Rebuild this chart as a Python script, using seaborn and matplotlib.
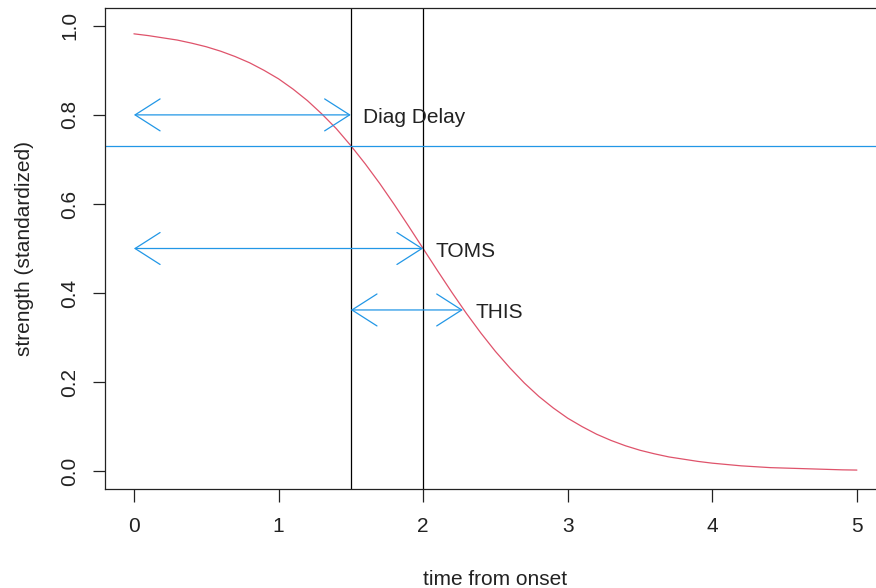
import numpy as np
import pandas as pd
import matplotlib
matplotlib.use("Agg")
import matplotlib.pyplot as plt
from matplotlib.patches import ArrowStyle
from matplotlib.transforms import offset_copy
import seaborn as sns

# ---- data ----
time = [0.0, 0.1, 0.2, 0.3, 0.4, 0.5, 0.6, 0.7, 0.8, 0.9,
        1.0, 1.1, 1.2, 1.3, 1.4, 1.5, 1.6, 1.7, 1.8, 1.9,
        2.0, 2.1, 2.2, 2.3, 2.4, 2.5, 2.6, 2.7, 2.8, 2.9,
        3.0, 3.1, 3.2, 3.3, 3.4, 3.5, 3.6, 3.7, 3.8, 3.9,
        4.0, 4.1, 4.2, 4.3, 4.4, 4.5, 4.6, 4.7, 4.8, 4.9, 5.0]
strength = [0.982, 0.978, 0.973, 0.968, 0.961, 0.953, 0.943, 0.931, 0.917, 0.900,
            0.881, 0.858, 0.832, 0.802, 0.769, 0.731, 0.690, 0.646, 0.599, 0.550,
            0.500, 0.450, 0.401, 0.354, 0.310, 0.269, 0.232, 0.198, 0.168, 0.142,
            0.119, 0.100, 0.083, 0.069, 0.057, 0.047, 0.039, 0.032, 0.027, 0.022,
            0.018, 0.015, 0.012, 0.010, 0.008, 0.007, 0.006, 0.005, 0.004, 0.003, 0.0025]

vlines_x = [1.5, 2.0]
hline_y = 0.731

arrow_labels = ["Diag Delay", "TOMS", "THIS"]
arrow_start = [0.0, 0.0, 1.5]
arrow_end = [1.5, 2.0, 2.275]
arrow_y = [0.80, 0.50, 0.362]
label_x = [1.585, 2.085, 2.36]

x_ticks = [0, 1, 2, 3, 4, 5]
y_ticks = [0.0, 0.2, 0.4, 0.6, 0.8, 1.0]

RED = "#DF536B"
BLUE = "#2297E6"
INK = "#222222"
FS = 15

sns.set_theme(style="white")
plt.rcParams["font.family"] = ["Liberation Sans", "DejaVu Sans"]

fig = plt.figure(figsize=(8.76, 5.88), dpi=100)
ax = fig.add_axes([105 / 876, 1 - 489 / 588, 780.8 / 876, 481 / 588])

df = pd.DataFrame({"time": time, "strength": strength})
sns.lineplot(data=df, x="time", y="strength", ax=ax, color=RED, linewidth=0.9)

for xv in vlines_x:
    ax.axvline(xv, color="black", linewidth=0.9)
ax.axhline(hline_y, color=BLUE, linewidth=0.9)

style = ArrowStyle("<->", head_length=18, head_width=11.5)
text_tr = offset_copy(ax.transData, fig=fig, x=0, y=-2, units="points")
for lab, x0, x1, yy, lx in zip(arrow_labels, arrow_start, arrow_end, arrow_y, label_x):
    ax.annotate("", xy=(x1, yy), xytext=(x0, yy),
                arrowprops=dict(arrowstyle=style, color=BLUE, lw=0.9,
                                shrinkA=0, shrinkB=0, mutation_scale=1))
    ax.text(lx, yy, lab, ha="left", va="center", fontsize=FS, color=INK,
            transform=text_tr)

ax.set_xlim(-0.2, 5.2)
ax.set_ylim(-0.040, 1.040)
ax.set_xticks(x_ticks)
ax.set_xticklabels([str(t) for t in x_ticks])
ax.set_yticks(y_ticks)
ax.set_yticklabels([f"{t:.1f}" for t in y_ticks], rotation=90, va="center")

ax.tick_params(axis="x", which="both", direction="out", length=9, width=0.9,
               color=INK, labelsize=FS, labelcolor=INK, pad=11.4, bottom=True)
ax.tick_params(axis="y", which="both", direction="out", length=9, width=0.9,
               color=INK, labelsize=FS, labelcolor=INK, pad=9.5, left=True)
for s in ax.spines.values():
    s.set_color(INK)
    s.set_linewidth(0.9)

ax.set_xlabel("time from onset", fontsize=FS, color=INK, labelpad=24)
ax.set_ylabel("strength (standardized)", fontsize=FS, color=INK, labelpad=19)

fig.savefig("out.png", dpi=100)
